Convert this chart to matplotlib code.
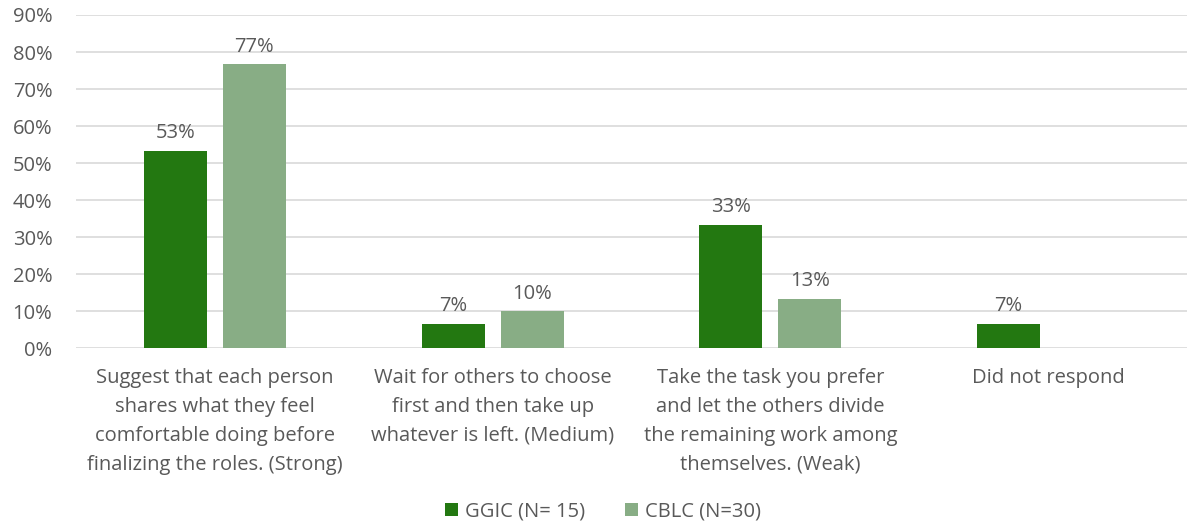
import matplotlib.pyplot as plt
import numpy as np

plt.rcParams['font.family'] = ['Open Sans', 'DejaVu Sans']

# datos
categorias = ["Suggest that each person\nshares what they feel\ncomfortable doing before\nfinalizing the roles. (Strong)",
              "Wait for others to choose\nfirst and then take up\nwhatever is left. (Medium)",
              "Take the task you prefer\nand let the others divide\nthe remaining work among\nthemselves. (Weak)",
              "Did not respond"]
ggic = [53.33, 6.67, 33.33, 6.67]
cblc = [76.67, 10.0, 13.33, 0.0]
etiquetas_ggic = ["53%", "7%", "33%", "7%"]
etiquetas_cblc = ["77%", "10%", "13%", ""]

verde_osc = "#237811"
verde_cla = "#88ad85"
gris = "#595959"
fs = 14.5

fig = plt.figure(figsize=(11.87, 5.26), dpi=100)
ax = fig.add_axes([0.064, 0.338, 0.936, 0.6335])

x = np.arange(len(categorias))
ancho = 0.227
desp = 0.142
b1 = ax.bar(x - desp, ggic, ancho, color=verde_osc, label="GGIC (N= 15)", zorder=3)
b2 = ax.bar(x + desp, cblc, ancho, color=verde_cla, label="CBLC (N=30)", zorder=3)

for barras, etq in [(b1, etiquetas_ggic), (b2, etiquetas_cblc)]:
    for b, t in zip(barras, etq):
        if t:
            ax.text(b.get_x() + b.get_width() / 2, b.get_height() + 2.0, t,
                    ha="center", va="bottom", fontsize=fs, color=gris)

ax.set_xlim(-0.5, 3.5)
ax.set_ylim(0, 90)
ax.set_yticks(range(0, 91, 10))
ax.set_yticklabels([f"{v}%" for v in range(0, 91, 10)])
ax.set_xticks(x)
ax.set_xticklabels(categorias, fontsize=fs, color=gris, linespacing=1.6)
ax.tick_params(axis="y", labelsize=fs, labelcolor=gris, length=0, pad=17)
ax.tick_params(axis="x", length=0, pad=14)
ax.yaxis.grid(True, color="#d9d9d9", linewidth=1.2, zorder=0)
for s in ax.spines.values():
    s.set_visible(False)

fig.legend(loc="center", bbox_to_anchor=(0.508, 0.027), ncol=2, frameon=False,
           fontsize=fs, labelcolor=gris, handlelength=0.65, handleheight=0.65,
           handletextpad=0.35, columnspacing=2.0)

plt.savefig("out.png")
